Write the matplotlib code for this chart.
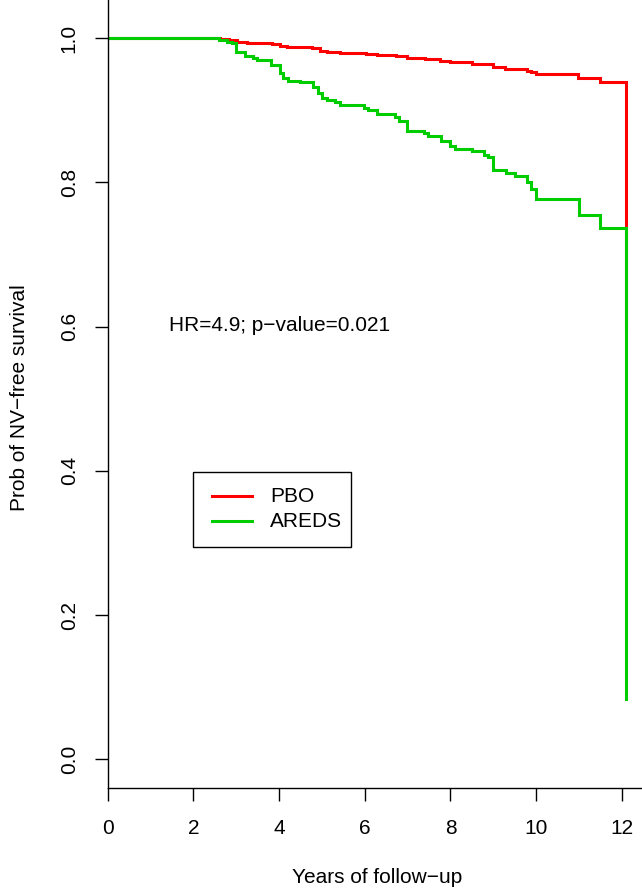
import matplotlib
matplotlib.use("Agg")
import matplotlib.pyplot as plt
from matplotlib.patches import Rectangle

plt.rcParams['font.family'] = ['Liberation Sans', 'DejaVu Sans']

# Kaplan-Meier step data (years, survival)
pbo_time = [0, 2.62, 2.82, 3.01, 3.25, 3.48, 3.83, 4.02, 4.18, 4.76, 4.95, 5.12, 5.43,
            6.03, 6.28, 6.74, 6.98, 7.40, 7.75, 7.98, 8.50, 8.81, 8.99, 9.27, 9.51,
            9.78, 9.89, 9.99, 10.98, 11.48, 12.09]
pbo_surv = [1.0, 0.999, 0.997, 0.995, 0.994, 0.993, 0.992, 0.989, 0.988, 0.986, 0.983,
            0.981, 0.980, 0.978, 0.977, 0.976, 0.972, 0.971, 0.969, 0.967, 0.965, 0.964,
            0.960, 0.958, 0.957, 0.955, 0.953, 0.950, 0.945, 0.940, 0.600]

areds_time = [0, 2.59, 2.78, 2.90, 3.00, 3.21, 3.40, 3.48, 3.80, 4.02, 4.10, 4.20, 4.49,
              4.80, 4.90, 5.00, 5.12, 5.31, 5.41, 5.98, 6.08, 6.28, 6.70, 6.80, 6.99,
              7.38, 7.48, 7.79, 7.98, 8.10, 8.50, 8.79, 8.88, 9.00, 9.30, 9.51, 9.79,
              9.89, 9.99, 10.99, 11.48, 12.09]
areds_surv = [1.0, 0.997, 0.995, 0.993, 0.981, 0.976, 0.972, 0.970, 0.963, 0.952, 0.945,
              0.941, 0.939, 0.933, 0.924, 0.917, 0.915, 0.912, 0.908, 0.903, 0.900, 0.895,
              0.891, 0.885, 0.872, 0.869, 0.865, 0.857, 0.851, 0.846, 0.843, 0.838, 0.835,
              0.818, 0.813, 0.809, 0.800, 0.791, 0.777, 0.755, 0.737, 0.083]

groups = ['PBO', 'AREDS']
colors = ['#FF0000', '#00CD00']
xticks = [0, 2, 4, 6, 8, 10, 12]
yticks = [0.0, 0.2, 0.4, 0.6, 0.8, 1.0]
annot = 'HR=4.9; p\u2212value=0.021'

fs = 15

fig = plt.figure(figsize=(6.42, 8.88), dpi=100)
ax = fig.add_axes([107.7 / 642, 1 - 788.3 / 888, 1 - 107.7 / 642, 788.3 / 888])

ax.step(pbo_time, pbo_surv, where='post', color=colors[0], lw=2.2, solid_joinstyle='miter')
ax.step(areds_time, areds_surv, where='post', color=colors[1], lw=2.2, solid_joinstyle='miter')

ax.set_xlim(0, 12.47)
ax.set_ylim(-0.0402, 1.0531)

for s in ['top', 'right']:
    ax.spines[s].set_visible(False)
for s in ['left', 'bottom']:
    ax.spines[s].set_linewidth(1.0)

ax.set_xticks(xticks)
ax.set_xticklabels([str(t) for t in xticks], fontsize=fs)
ax.set_yticks(yticks)
ax.set_yticklabels(['%.1f' % t for t in yticks], fontsize=fs, rotation=90, va='center')
ax.tick_params(axis='both', direction='out', length=9.4, width=1.0)
ax.tick_params(axis='x', pad=12.5)
ax.tick_params(axis='y', pad=11.5)

fig.text(377 / 642, 1 - 877 / 888, 'Years of follow\u2212up', fontsize=fs, ha='center', va='center')
fig.text(20 / 642, 1 - 398 / 888, 'Prob of NV\u2212free survival', fontsize=fs,
         ha='center', va='center', rotation=90)

ax.text(4.0, 0.602, annot, fontsize=fs, ha='center', va='center')

# legend box, drawn like R's legend()
ax.add_patch(Rectangle((2.0, 0.295), 3.69, 0.104, fill=False, edgecolor='black', lw=1.0))
leg_y = [0.365, 0.3305]
for g, c, yy in zip(groups, colors, leg_y):
    ax.plot([2.43, 3.36], [yy, yy], color=c, lw=2.2)
    ax.text(3.79, yy, g, fontsize=fs, ha='left', va='center')

fig.savefig('out.png', dpi=100)
